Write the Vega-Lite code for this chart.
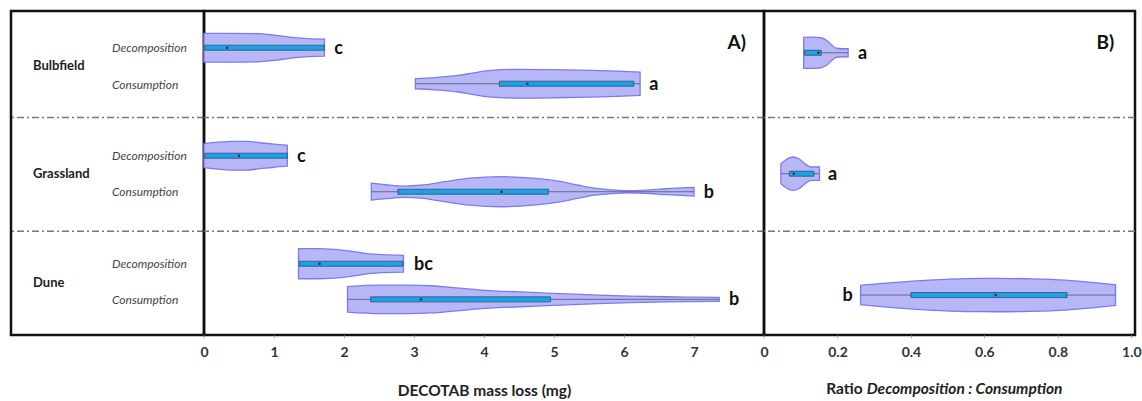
{
  "$schema": "https://vega.github.io/schema/vega-lite/v6.json",
  "padding": {"left": 9, "top": 9, "right": 0, "bottom": 0},
  "autosize": {"type": "pad"},
  "spacing": 0,
  "bounds": "flush",
  "config": {
    "font": "Lato",
    "view": {"stroke": "#111", "strokeWidth": 2.5},
    "scale": {"continuousPadding": 0},
    "axis": {"grid": false, "domain": false, "tickSize": 3, "tickColor": "#aaa", "labelFont": "Lato", "labelFontWeight": "bold", "labelFontSize": 14, "labelColor": "#333", "labelPadding": 7, "labelFlush": false, "labelOverlap": false, "titleFont": "Lato", "titleFontWeight": "bold", "titleFontSize": 15.5, "titleColor": "#222", "titlePadding": 24}
  },
  "datasets": {
    "seps": [{"s": 2.96}, {"s": 6.12}],
    "rowlabels": [
      {"col": "site", "label": "Bulbfield", "s": 1.52},
      {"col": "site", "label": "Grassland", "s": 4.52},
      {"col": "site", "label": "Dune", "s": 7.55},
      {"col": "measure", "label": "Decomposition", "s": 1.03},
      {"col": "measure", "label": "Consumption", "s": 2.05},
      {"col": "measure", "label": "Decomposition", "s": 4.03},
      {"col": "measure", "label": "Consumption", "s": 5.03},
      {"col": "measure", "label": "Decomposition", "s": 7.03},
      {"col": "measure", "label": "Consumption", "s": 8.03}
    ],
    "boxes": [
      {"id": "A-Bul-D", "panel": "A", "yc": 1.02, "min": 0, "q1": 0.01, "med": 0.33, "q3": 1.72, "max": 1.72, "letter": "c", "lx": 1.86},
      {"id": "A-Bul-C", "panel": "A", "yc": 2.02, "min": 3.02, "q1": 4.22, "med": 4.62, "q3": 6.14, "max": 6.23, "letter": "a", "lx": 6.36},
      {"id": "A-Gra-D", "panel": "A", "yc": 4.02, "min": 0, "q1": 0.01, "med": 0.5, "q3": 1.19, "max": 1.19, "letter": "c", "lx": 1.33},
      {"id": "A-Gra-C", "panel": "A", "yc": 5.02, "min": 2.39, "q1": 2.77, "med": 4.25, "q3": 4.92, "max": 7.0, "letter": "b", "lx": 7.14},
      {"id": "A-Dun-D", "panel": "A", "yc": 7.02, "min": 1.35, "q1": 1.36, "med": 1.65, "q3": 2.84, "max": 2.85, "letter": "bc", "lx": 3.0},
      {"id": "A-Dun-C", "panel": "A", "yc": 8.01, "min": 2.05, "q1": 2.38, "med": 3.1, "q3": 4.95, "max": 7.36, "letter": "b", "lx": 7.5},
      {"id": "B-Bul", "panel": "B", "yc": 1.16, "min": 0.108, "q1": 0.11, "med": 0.148, "q3": 0.156, "max": 0.229, "letter": "a", "lx": 0.256},
      {"id": "B-Gra", "panel": "B", "yc": 4.52, "min": 0.046, "q1": 0.069, "med": 0.081, "q3": 0.136, "max": 0.151, "letter": "a", "lx": 0.174},
      {"id": "B-Dun", "panel": "B", "yc": 7.89, "min": 0.263, "q1": 0.4, "med": 0.631, "q3": 0.825, "max": 0.957, "letter": "b", "lx": 0.214}
    ],
    "outline": [
      {"id": "A-Bul-D", "v": 0, "w": 0.4}, {"id": "A-Bul-D", "v": 0.4, "w": 0.4}, {"id": "A-Bul-D", "v": 0.77, "w": 0.39}, {"id": "A-Bul-D", "v": 1.0, "w": 0.35}, {"id": "A-Bul-D", "v": 1.25, "w": 0.29}, {"id": "A-Bul-D", "v": 1.5, "w": 0.25}, {"id": "A-Bul-D", "v": 1.72, "w": 0.236},
      {"id": "A-Bul-C", "v": 3.02, "w": 0.14}, {"id": "A-Bul-C", "v": 3.3, "w": 0.17}, {"id": "A-Bul-C", "v": 3.63, "w": 0.23}, {"id": "A-Bul-C", "v": 3.85, "w": 0.3}, {"id": "A-Bul-C", "v": 4.1, "w": 0.37}, {"id": "A-Bul-C", "v": 4.5, "w": 0.4}, {"id": "A-Bul-C", "v": 5.0, "w": 0.39}, {"id": "A-Bul-C", "v": 5.54, "w": 0.37}, {"id": "A-Bul-C", "v": 5.9, "w": 0.35}, {"id": "A-Bul-C", "v": 6.23, "w": 0.325},
      {"id": "A-Gra-D", "v": 0, "w": 0.33}, {"id": "A-Gra-D", "v": 0.2, "w": 0.375}, {"id": "A-Gra-D", "v": 0.4, "w": 0.4}, {"id": "A-Gra-D", "v": 0.6, "w": 0.4}, {"id": "A-Gra-D", "v": 0.8, "w": 0.36}, {"id": "A-Gra-D", "v": 1.0, "w": 0.32}, {"id": "A-Gra-D", "v": 1.19, "w": 0.29},
      {"id": "A-Gra-C", "v": 2.39, "w": 0.236}, {"id": "A-Gra-C", "v": 2.6, "w": 0.194}, {"id": "A-Gra-C", "v": 2.86, "w": 0.158}, {"id": "A-Gra-C", "v": 3.1, "w": 0.18}, {"id": "A-Gra-C", "v": 3.44, "w": 0.278}, {"id": "A-Gra-C", "v": 3.8, "w": 0.375}, {"id": "A-Gra-C", "v": 4.25, "w": 0.417}, {"id": "A-Gra-C", "v": 4.7, "w": 0.375}, {"id": "A-Gra-C", "v": 5.1, "w": 0.278}, {"id": "A-Gra-C", "v": 5.35, "w": 0.18}, {"id": "A-Gra-C", "v": 5.58, "w": 0.097}, {"id": "A-Gra-C", "v": 5.85, "w": 0.05}, {"id": "A-Gra-C", "v": 6.07, "w": 0.028}, {"id": "A-Gra-C", "v": 6.3, "w": 0.042}, {"id": "A-Gra-C", "v": 6.6, "w": 0.083}, {"id": "A-Gra-C", "v": 7.0, "w": 0.12},
      {"id": "A-Dun-D", "v": 1.35, "w": 0.417}, {"id": "A-Dun-D", "v": 1.6, "w": 0.417}, {"id": "A-Dun-D", "v": 1.86, "w": 0.4}, {"id": "A-Dun-D", "v": 2.1, "w": 0.35}, {"id": "A-Dun-D", "v": 2.3, "w": 0.29}, {"id": "A-Dun-D", "v": 2.55, "w": 0.25}, {"id": "A-Dun-D", "v": 2.85, "w": 0.233},
      {"id": "A-Dun-C", "v": 2.05, "w": 0.356}, {"id": "A-Dun-C", "v": 2.52, "w": 0.397}, {"id": "A-Dun-C", "v": 2.9, "w": 0.397}, {"id": "A-Dun-C", "v": 3.25, "w": 0.378}, {"id": "A-Dun-C", "v": 3.6, "w": 0.32}, {"id": "A-Dun-C", "v": 3.96, "w": 0.258}, {"id": "A-Dun-C", "v": 4.3, "w": 0.222}, {"id": "A-Dun-C", "v": 4.68, "w": 0.194}, {"id": "A-Dun-C", "v": 5.1, "w": 0.158}, {"id": "A-Dun-C", "v": 5.63, "w": 0.12}, {"id": "A-Dun-C", "v": 6.1, "w": 0.092}, {"id": "A-Dun-C", "v": 6.59, "w": 0.072}, {"id": "A-Dun-C", "v": 7.0, "w": 0.061}, {"id": "A-Dun-C", "v": 7.36, "w": 0.056},
      {"id": "B-Bul", "v": 0.108, "w": 0.43}, {"id": "B-Bul", "v": 0.13, "w": 0.436}, {"id": "B-Bul", "v": 0.155, "w": 0.417}, {"id": "B-Bul", "v": 0.172, "w": 0.333}, {"id": "B-Bul", "v": 0.185, "w": 0.208}, {"id": "B-Bul", "v": 0.197, "w": 0.125}, {"id": "B-Bul", "v": 0.215, "w": 0.111}, {"id": "B-Bul", "v": 0.229, "w": 0.111},
      {"id": "B-Gra", "v": 0.046, "w": 0.278}, {"id": "B-Gra", "v": 0.06, "w": 0.39}, {"id": "B-Gra", "v": 0.078, "w": 0.464}, {"id": "B-Gra", "v": 0.095, "w": 0.417}, {"id": "B-Gra", "v": 0.11, "w": 0.29}, {"id": "B-Gra", "v": 0.128, "w": 0.186}, {"id": "B-Gra", "v": 0.151, "w": 0.186},
      {"id": "B-Dun", "v": 0.263, "w": 0.27}, {"id": "B-Dun", "v": 0.35, "w": 0.347}, {"id": "B-Dun", "v": 0.45, "w": 0.417}, {"id": "B-Dun", "v": 0.55, "w": 0.458}, {"id": "B-Dun", "v": 0.63, "w": 0.464}, {"id": "B-Dun", "v": 0.72, "w": 0.453}, {"id": "B-Dun", "v": 0.82, "w": 0.417}, {"id": "B-Dun", "v": 0.9, "w": 0.347}, {"id": "B-Dun", "v": 0.957, "w": 0.286}
    ],
    "paneltags": [{"panel": "A", "tag": "A)", "x": 7.48, "s": 0.89}, {"panel": "B", "tag": "B)", "x": 0.905, "s": 0.89}],
    "btitle": [{"r": 0.274, "s": 10.5, "a": "Ratio", "b": "Decomposition : Consumption"}]
  },
  "hconcat": [
    {
      "width": 193,
      "height": 324,
      "layer": [
        {
          "data": {"name": "seps"},
          "mark": {"type": "rule", "strokeDash": [7, 3, 2, 3], "color": "#777", "strokeWidth": 1.5},
          "encoding": {"y": {"field": "s", "type": "quantitative", "scale": {"domain": [0, 9], "reverse": true, "nice": false, "zero": false, "padding": 0}, "axis": null}}
        },
        {
          "data": {"name": "rowlabels"},
          "transform": [{"filter": "datum.col == 'site'"}],
          "mark": {"type": "text", "align": "left", "baseline": "middle", "font": "Lato", "fontWeight": "bold", "fontSize": 13, "color": "#222"},
          "encoding": {
            "x": {"field": "col", "type": "ordinal", "scale": {"type": "point", "domain": ["site", "measure"], "range": [22, 101], "padding": 0}, "axis": null},
            "y": {"field": "s", "type": "quantitative"},
            "text": {"field": "label"}
          }
        },
        {
          "data": {"name": "rowlabels"},
          "transform": [{"filter": "datum.col == 'measure'"}],
          "mark": {"type": "text", "align": "left", "baseline": "middle", "font": "Lato", "fontStyle": "italic", "fontSize": 12, "color": "#444"},
          "encoding": {
            "x": {"field": "col", "type": "ordinal"},
            "y": {"field": "s", "type": "quantitative"},
            "text": {"field": "label"}
          }
        }
      ]
    },
    {
      "width": 560,
      "height": 324,
      "layer": [
        {
          "data": {"name": "seps"},
          "mark": {"type": "rule", "strokeDash": [7, 3, 2, 3], "color": "#777", "strokeWidth": 1.5},
          "encoding": {"y": {"field": "s", "type": "quantitative", "scale": {"domain": [0, 9], "reverse": true, "nice": false, "zero": false, "padding": 0}, "axis": null}}
        },
        {
          "data": {"name": "outline"},
          "transform": [
            {"filter": "indexof(datum.id, 'A-') == 0"},
            {"lookup": "id", "from": {"data": {"name": "boxes"}, "key": "id", "fields": ["yc"]}},
            {"calculate": "datum.yc - datum.w", "as": "lo"},
            {"calculate": "datum.yc + datum.w", "as": "hi"}
          ],
          "mark": {"type": "area", "orient": "vertical", "interpolate": "monotone", "fill": "#b7b7f8", "fillOpacity": 1, "stroke": "#7b7bf0", "strokeWidth": 1.3},
          "encoding": {
            "x": {"field": "v", "type": "quantitative", "scale": {"domain": [0, 8], "nice": false, "zero": false, "padding": 0}, "axis": {"values": [0, 1, 2, 3, 4, 5, 6, 7], "title": "DECOTAB mass loss (mg)", "format": "d"}},
            "y": {"field": "lo", "type": "quantitative"},
            "y2": {"field": "hi"},
            "detail": {"field": "id"}
          }
        },
        {
          "data": {"name": "boxes"},
          "transform": [{"filter": "datum.panel == 'A'"}],
          "mark": {"type": "rule", "color": "#6a6a80", "strokeWidth": 1},
          "encoding": {"x": {"field": "min", "type": "quantitative"}, "x2": {"field": "max"}, "y": {"field": "yc", "type": "quantitative"}}
        },
        {
          "data": {"name": "boxes"},
          "transform": [{"filter": "datum.panel == 'A'"}],
          "mark": {"type": "bar", "height": 5, "fill": "#1ba3e6", "stroke": "#2d4f72", "strokeWidth": 0.8},
          "encoding": {"x": {"field": "q1", "type": "quantitative"}, "x2": {"field": "q3"}, "y": {"field": "yc", "type": "quantitative"}}
        },
        {
          "data": {"name": "boxes"},
          "transform": [{"filter": "datum.panel == 'A'"}],
          "mark": {"type": "point", "filled": true, "size": 6, "color": "#222", "opacity": 1},
          "encoding": {"x": {"field": "med", "type": "quantitative"}, "y": {"field": "yc", "type": "quantitative"}}
        },
        {
          "data": {"name": "boxes"},
          "transform": [{"filter": "datum.panel == 'A'"}],
          "mark": {"type": "text", "align": "left", "baseline": "middle", "dy": 1, "font": "Lato", "fontWeight": "bold", "fontSize": 18, "color": "#111"},
          "encoding": {"x": {"field": "lx", "type": "quantitative"}, "y": {"field": "yc", "type": "quantitative"}, "text": {"field": "letter"}}
        },
        {
          "data": {"name": "paneltags"},
          "transform": [{"filter": "datum.panel == 'A'"}],
          "mark": {"type": "text", "align": "left", "baseline": "middle", "font": "Lato", "fontWeight": "bold", "fontSize": 19, "color": "#111"},
          "encoding": {"x": {"field": "x", "type": "quantitative"}, "y": {"field": "s", "type": "quantitative"}, "text": {"field": "tag"}}
        }
      ]
    },
    {
      "width": 371,
      "height": 324,
      "layer": [
        {
          "data": {"name": "seps"},
          "mark": {"type": "rule", "strokeDash": [7, 3, 2, 3], "color": "#777", "strokeWidth": 1.5},
          "encoding": {"y": {"field": "s", "type": "quantitative", "scale": {"domain": [0, 9], "reverse": true, "nice": false, "zero": false, "padding": 0}, "axis": null}}
        },
        {
          "data": {"name": "outline"},
          "transform": [
            {"filter": "indexof(datum.id, 'B-') == 0"},
            {"lookup": "id", "from": {"data": {"name": "boxes"}, "key": "id", "fields": ["yc"]}},
            {"calculate": "datum.yc - datum.w", "as": "lo"},
            {"calculate": "datum.yc + datum.w", "as": "hi"}
          ],
          "mark": {"type": "area", "orient": "vertical", "interpolate": "monotone", "fill": "#b7b7f8", "fillOpacity": 1, "stroke": "#7b7bf0", "strokeWidth": 1.3},
          "encoding": {
            "x": {"field": "v", "type": "quantitative", "scale": {"domain": [0, 1.01], "nice": false, "zero": false, "padding": 0}, "axis": {"values": [0, 0.2, 0.4, 0.6, 0.8, 1.0], "title": null, "labelExpr": "datum.value == 0 ? '0' : format(datum.value, '.1f')"}},
            "y": {"field": "lo", "type": "quantitative"},
            "y2": {"field": "hi"},
            "detail": {"field": "id"}
          }
        },
        {
          "data": {"name": "boxes"},
          "transform": [{"filter": "datum.panel == 'B'"}],
          "mark": {"type": "rule", "color": "#6a6a80", "strokeWidth": 1},
          "encoding": {"x": {"field": "min", "type": "quantitative"}, "x2": {"field": "max"}, "y": {"field": "yc", "type": "quantitative"}}
        },
        {
          "data": {"name": "boxes"},
          "transform": [{"filter": "datum.panel == 'B'"}],
          "mark": {"type": "bar", "height": 5, "fill": "#1ba3e6", "stroke": "#2d4f72", "strokeWidth": 0.8},
          "encoding": {"x": {"field": "q1", "type": "quantitative"}, "x2": {"field": "q3"}, "y": {"field": "yc", "type": "quantitative"}}
        },
        {
          "data": {"name": "boxes"},
          "transform": [{"filter": "datum.panel == 'B'"}],
          "mark": {"type": "point", "filled": true, "size": 6, "color": "#222", "opacity": 1},
          "encoding": {"x": {"field": "med", "type": "quantitative"}, "y": {"field": "yc", "type": "quantitative"}}
        },
        {
          "data": {"name": "boxes"},
          "transform": [{"filter": "datum.panel == 'B'"}],
          "mark": {"type": "text", "align": "left", "baseline": "middle", "dy": 1, "font": "Lato", "fontWeight": "bold", "fontSize": 18, "color": "#111"},
          "encoding": {"x": {"field": "lx", "type": "quantitative"}, "y": {"field": "yc", "type": "quantitative"}, "text": {"field": "letter"}}
        },
        {
          "data": {"name": "paneltags"},
          "transform": [{"filter": "datum.panel == 'B'"}],
          "mark": {"type": "text", "align": "left", "baseline": "middle", "font": "Lato", "fontWeight": "bold", "fontSize": 19, "color": "#111"},
          "encoding": {"x": {"field": "x", "type": "quantitative"}, "y": {"field": "s", "type": "quantitative"}, "text": {"field": "tag"}}
        },
        {
          "data": {"name": "btitle"},
          "mark": {"type": "text", "align": "right", "baseline": "middle", "dx": -2, "font": "Lato", "fontWeight": "bold", "fontSize": 15.5, "color": "#222"},
          "encoding": {"x": {"field": "r", "type": "quantitative"}, "y": {"field": "s", "type": "quantitative"}, "text": {"field": "a"}}
        },
        {
          "data": {"name": "btitle"},
          "mark": {"type": "text", "align": "left", "baseline": "middle", "dx": 2, "font": "Lato", "fontWeight": "bold", "fontStyle": "italic", "fontSize": 15.5, "color": "#222"},
          "encoding": {"x": {"field": "r", "type": "quantitative"}, "y": {"field": "s", "type": "quantitative"}, "text": {"field": "b"}}
        }
      ]
    }
  ]
}
